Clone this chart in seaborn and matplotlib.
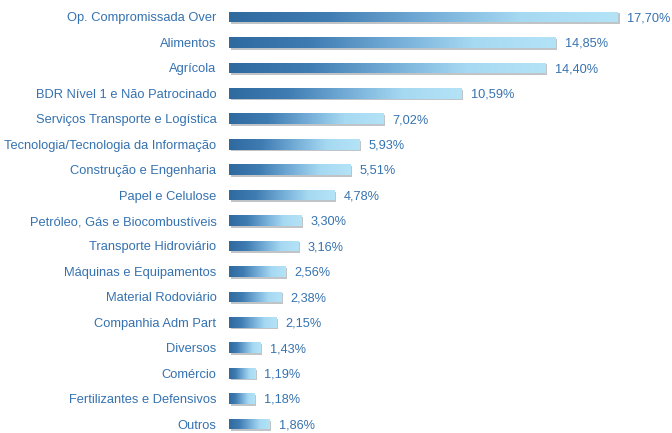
import matplotlib
matplotlib.use("Agg")
import matplotlib.pyplot as plt
import numpy as np
import pandas as pd
import seaborn as sns
from matplotlib.colors import LinearSegmentedColormap

# ---------------------------------
# Data
# ---------------------------------
setores = ["Op. Compromissada Over", "Alimentos", "Agrícola",
           "BDR Nível 1 e Não Patrocinado", "Serviços Transporte e Logística",
           "Tecnologia/Tecnologia da Informação", "Construção e Engenharia",
           "Papel e Celulose", "Petróleo, Gás e Biocombustíveis",
           "Transporte Hidroviário", "Máquinas e Equipamentos",
           "Material Rodoviário", "Companhia Adm Part", "Diversos",
           "Comércio", "Fertilizantes e Defensivos", "Outros"]
pesos = [17.70, 14.85, 14.40, 10.59, 7.02, 5.93, 5.51, 4.78, 3.30,
         3.16, 2.56, 2.38, 2.15, 1.43, 1.19, 1.18, 1.86]

df = pd.DataFrame({"setor": setores, "peso": pesos})

TXT = "#3572b0"
grad = LinearSegmentedColormap.from_list(
    "barra", ["#2f6a9f", "#3f7cb2", "#72abd6", "#a6d9f2", "#b4e3f7"])

sns.set_style("white")
plt.rcParams["font.family"] = ["Liberation Sans", "DejaVu Sans"]

fig = plt.figure(figsize=(6.72, 4.33), dpi=100)
ax = fig.add_axes([229 / 672, 0, 431 / 672, 1])

sns.barplot(data=df, x="peso", y="setor", orient="h", color="#5f9cc8",
            width=0.42, ax=ax)

xmax = 17.70 * 431 / 389

g = np.linspace(0, 1, 256).reshape(1, -1)
for bar in ax.patches:
    x0, y0 = bar.get_x(), bar.get_y()
    w, h = bar.get_width(), bar.get_height()
    bar.set_facecolor("none")
    bar.set_edgecolor("none")
    im = ax.imshow(g, cmap=grad, aspect="auto", extent=[x0, x0 + w, y0 + h, y0],
                   zorder=3, interpolation="bicubic")
    im.set_clip_path(bar)
    # thin grey drop shadow along the bottom and right edge
    shadow = plt.Rectangle((x0 + 0.07, y0 + 0.07), w, h, facecolor="#8f9498",
                           edgecolor="none", alpha=0.55, zorder=2)
    ax.add_patch(shadow)
    ax.text(x0 + w + 0.42, y0 + h / 2 + 0.05, f"{w:.2f}%".replace(".", ","),
            va="center", ha="left", color=TXT, fontsize=9.2)

ax.set_ylim(16.35, -0.668)
ax.set_xlim(0, xmax)
ax.set_xlabel("")
ax.set_ylabel("")
ax.set_xticks([])
ax.tick_params(axis="y", length=0, pad=9, labelsize=9.3, labelcolor=TXT)
sns.despine(ax=ax, left=True, bottom=True)

fig.savefig("out.png", dpi=100)
